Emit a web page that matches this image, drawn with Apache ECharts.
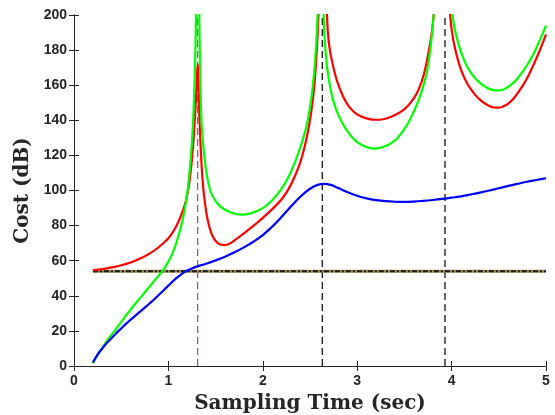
<!DOCTYPE html>
<html>
<head>
<meta charset="utf-8">
<script src="https://cdn.jsdelivr.net/npm/echarts@6/dist/echarts.min.js"></script>
<style>
html,body{margin:0;padding:0;background:#fff;}
#chart{width:555px;height:415px;}
</style>
</head>
<body>
<div id="chart"></div>
<script>
// ---- data ----
const xTicks = [0, 1, 2, 3, 4, 5];
const yTicks = [0, 20, 40, 60, 80, 100, 120, 140, 160, 180, 200];

const redX = [0.2,0.3,0.4,0.5,0.6,0.7,0.8,0.9,1.0,1.05,1.1,1.15,1.19,1.22,1.25,1.27,1.29,1.31,1.33,1.35,1.37,1.40,1.43,1.46,1.50,1.55,1.60,1.65,1.70,1.80,1.90,2.00,2.10,2.20,2.28,2.35,2.40,2.45,2.49,2.52,2.55,2.58,2.60,2.62,
  2.66,2.68,2.70,2.74,2.78,2.82,2.86,2.90,2.95,3.00,3.06,3.12,3.18,3.24,3.30,3.36,3.42,3.48,3.54,3.60,3.65,3.70,3.75,3.79,3.81,3.84,3.87,
  3.95,3.98,4.00,4.04,4.08,4.12,4.16,4.20,4.25,4.30,4.35,4.40,4.45,4.50,4.55,4.60,4.65,4.70,4.75,4.80,4.85,4.90,4.95,5.00];
const redY = [54.5,55.2,56.2,57.4,59,61.2,64,67.8,72.8,76.5,81.5,88,95,104,118,132,150,172,140,116,101,88,80,75,71.2,69.2,68.9,69.8,71.6,75.6,79.8,84.4,89.4,95,101.5,109.5,116.5,126.5,137,147.5,162,188,220,300,
  260,200,184,172,163.5,157.5,152.5,148.8,145.6,143.4,141.8,140.8,140.3,140.3,140.9,142,143.6,145.5,148.5,152.5,157.5,165,177,190,200,225,280,
  280,205,192,180,172,166,161.5,158,154.5,151.8,149.7,148.2,147.3,147.2,148,149.5,152,155.5,159.5,164,169.5,175.5,182,189];

const greenX = [0.2,0.25,0.3,0.35,0.4,0.45,0.5,0.55,0.6,0.65,0.7,0.75,0.8,0.85,0.9,0.95,1.0,1.05,1.1,1.15,1.19,1.22,1.25,1.27,1.29,1.30,1.31,1.32,1.33,1.35,1.38,1.41,1.45,1.50,1.55,1.62,1.70,1.76,1.82,1.90,2.00,2.10,2.20,2.28,2.35,2.40,2.45,2.49,2.52,2.55,2.58,2.61,
  2.63,2.645,2.67,2.70,2.74,2.78,2.82,2.86,2.90,2.95,3.00,3.06,3.12,3.18,3.24,3.30,3.36,3.42,3.48,3.54,3.60,3.65,3.70,3.74,3.78,3.81,3.84,3.87,
  3.96,4.00,4.03,4.07,4.12,4.16,4.20,4.25,4.30,4.35,4.40,4.45,4.50,4.55,4.60,4.65,4.70,4.75,4.80,4.85,4.90,4.95,5.00];
const greenY = [1.5,6.5,10.5,14.5,18,21.5,25,28.8,32.2,35.5,38.8,42,45.2,48.5,51.8,55,59.5,65,73,83,95,108,128,150,190,240,320,240,190,140,120,108,99,94,91,88.5,86.8,86.2,86.4,87.5,90,94.5,101,108.5,117.5,125,134,144,155,171,200,290,
  300,200,176,163,152.5,145.8,140.8,136.8,133.5,130.1,127.6,125.6,124.4,123.9,124.3,125.3,127,129.5,133.5,138.5,145,151.5,159.5,168,183,200,225,280,
  280,205,193,184,176,171,167.5,164,161.3,159.3,157.9,157.1,157,157.6,159,161.2,164,167.5,171.5,176,181.5,187.5,194];

const blueX = [0.2,0.25,0.3,0.35,0.4,0.45,0.5,0.55,0.6,0.65,0.7,0.75,0.8,0.85,0.9,0.95,1.0,1.05,1.1,1.15,1.2,1.25,1.3,1.4,1.5,1.6,1.7,1.8,1.9,2.0,2.1,2.2,2.3,2.4,2.5,2.58,2.65,2.72,2.8,2.9,3.0,3.1,3.2,3.3,3.4,3.5,3.6,3.7,3.8,3.9,4.0,4.1,4.2,4.3,4.4,4.5,4.6,4.7,4.8,4.9,5.0];
const blueY = [2,6.5,10,13.2,16,18.8,21.4,24,26.4,28.7,31,33.3,35.6,38,40.6,43.2,45.8,48.4,50.8,52.8,54.4,55.6,56.6,58.3,60.2,62.3,64.8,67.6,70.8,74.6,79.4,85,91,96.6,101,103.2,103.8,103.2,101.4,99,97,95.5,94.5,93.9,93.6,93.5,93.7,94.1,94.6,95.2,95.9,96.7,97.7,98.8,100,101.3,102.6,103.8,105,106,107];

const hLineX = [0.2, 5];
const hLineY = 54;
const vLineX = [1.31, 2.63, 3.93];
const vLineColors = ['#a3476e', '#000000', '#000000'];

// ---- build ----
const zip = (xs, ys) => xs.map((x, i) => [x, ys[i]]);
const axisColor = '#262626';
const labelFont = {fontFamily: 'Liberation Sans', fontWeight: 'bold', fontSize: 14, color: axisColor};
const titleFont = {fontFamily: 'DejaVu Serif', fontWeight: 'bold', fontSize: 20, color: axisColor};

const series = [];
vLineX.forEach((x, i) => {
  series.push({type: 'line', data: [[x, 0], [x, 200]], symbol: 'none', silent: true,
    lineStyle: {color: vLineColors[i], width: 1.2, type: [7, 4]}, z: 1});
});
series.push({type: 'line', data: zip(hLineX, [hLineY, hLineY]), symbol: 'none',
  lineStyle: {color: '#9c8a45', width: 2.8}, z: 2});
series.push({type: 'line', data: zip(hLineX, [hLineY, hLineY]), symbol: 'none',
  lineStyle: {color: '#1a1a1a', width: 2, type: [5, 2, 2, 2]}, z: 3});
const curve = (xs, ys, color, z) => ({type: 'line', data: zip(xs, ys), symbol: 'none', smooth: 0.4,
  lineStyle: {color: color, width: 2.2}, z: z});
series.push(curve(redX, redY, '#ff0000', 4));
series.push(curve(greenX, greenY, '#00ff00', 5));
series.push(curve(blueX, blueY, '#0000ff', 6));

const chart = echarts.init(document.getElementById('chart'), null, {renderer: 'canvas'});
chart.setOption({
  animation: false,
  backgroundColor: '#ffffff',
  grid: {left: 74, right: 9, top: 15, bottom: 49, containLabel: false, outerBoundsMode: 'none'},
  xAxis: [{
    type: 'value', min: xTicks[0], max: xTicks[xTicks.length - 1], interval: 1,
    axisLine: {lineStyle: {color: axisColor, width: 1}},
    axisTick: {inside: true, length: 5, lineStyle: {color: axisColor}},
    axisLabel: Object.assign({margin: 8}, labelFont),
    splitLine: {show: false},
    name: 'Sampling Time (sec)', nameLocation: 'middle', nameGap: 28,
    nameTextStyle: titleFont
  }, {
    type: 'value', position: 'top', min: 0, max: 5, interval: 1,
    axisLine: {show: true, lineStyle: {color: axisColor, width: 1}},
    axisTick: {inside: true, length: 5, lineStyle: {color: axisColor}},
    axisLabel: {show: false}, splitLine: {show: false}
  }],
  yAxis: [{
    type: 'value', min: yTicks[0], max: yTicks[yTicks.length - 1], interval: 20,
    axisLine: {show: true, lineStyle: {color: axisColor, width: 1}},
    axisTick: {show: true, inside: true, length: 5, lineStyle: {color: axisColor}},
    axisLabel: Object.assign({margin: 7}, labelFont),
    splitLine: {show: false},
    name: 'Cost (dB)', nameLocation: 'middle', nameGap: 30, nameRotate: 90,
    nameTextStyle: titleFont
  }, {
    type: 'value', position: 'right', min: 0, max: 200, interval: 20,
    axisLine: {show: true, lineStyle: {color: axisColor, width: 1}},
    axisTick: {show: true, inside: true, length: 5, lineStyle: {color: axisColor}},
    axisLabel: {show: false}, splitLine: {show: false}
  }],
  series: series
});
</script>
</body>
</html>
